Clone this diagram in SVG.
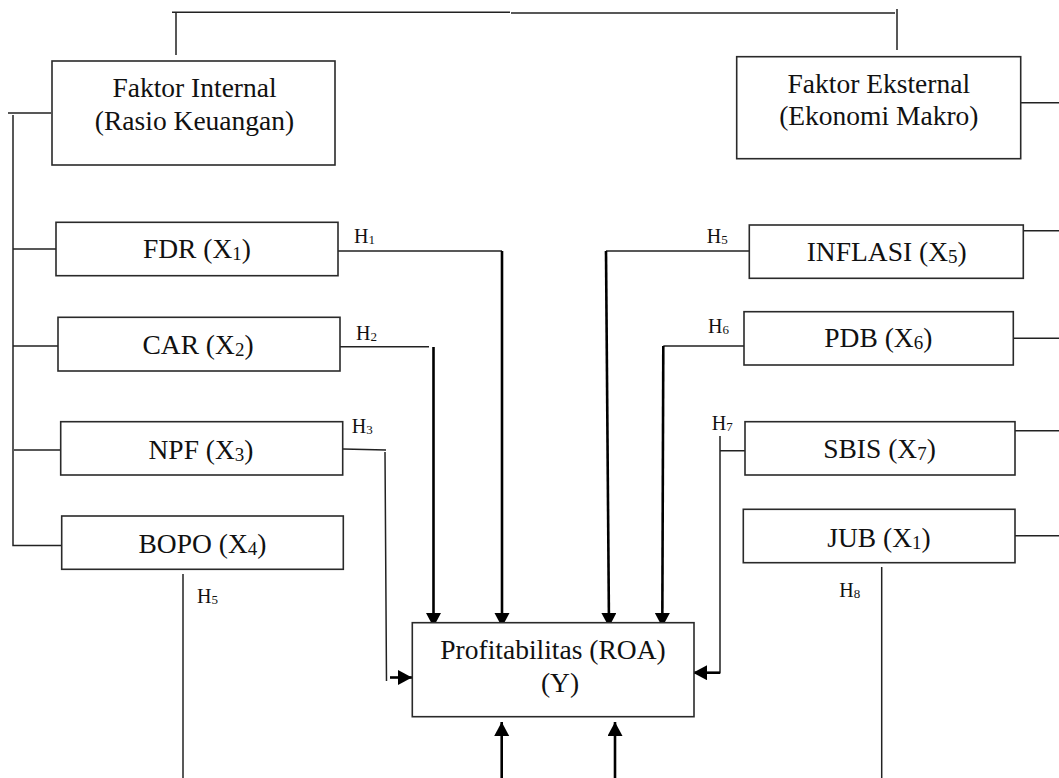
<svg xmlns="http://www.w3.org/2000/svg" width="1059" height="778" viewBox="0 0 1059 778">
<defs>
<style>
.box{fill:#fff;stroke:#2a2a2a;stroke-width:1.6}
.t{font-family:"Liberation Serif","Times New Roman",serif;font-size:27.5px;fill:#111;text-anchor:middle}
.h{font-family:"Liberation Serif","Times New Roman",serif;font-size:20px;fill:#111}
.ln{fill:none;stroke:#222;stroke-width:1.5}
.ar{fill:none;stroke:#000;stroke-width:2.6}
</style>
<marker id="ah" markerUnits="userSpaceOnUse" markerWidth="16" markerHeight="16" refX="14" refY="7.5" orient="auto">
<path d="M0,0 L14,7.5 L0,15 z" fill="#000"/>
</marker>
</defs>
<rect width="1059" height="778" fill="#fff"/>

<g id="connectors">
<path class="ln" d="M172,12.3 H510 M511,13 H895 M176,12 V55 M897,9 V50"/>
<path class="ln" d="M8,113 H51 M13,115 V545.5 H62 M13,249 H57 M13,346 H59 M14,450 H61"/>
<path class="ln" d="M183,574 V778"/>
<path class="ln" d="M335,251 H502 M339,346.7 H429 M343,449 L386,450 M385,452 L386.5,681"/>
<path class="ar" d="M502,251 V627" marker-end="url(#ah)"/>
<path class="ar" d="M433.5,347 V627" marker-end="url(#ah)"/>
<path class="ar" d="M390,677.5 H412" marker-end="url(#ah)"/>
<path class="ln" d="M606,251 H751 M663.3,346 H744 M720,450.7 H748"/>
<path class="ar" d="M606,251 L609,627" marker-end="url(#ah)"/>
<path class="ar" d="M663.3,346 L662.3,627" marker-end="url(#ah)"/>
<path class="ln" d="M720,436 V672.7 H710"/>
<path class="ar" d="M720,672.7 H693" marker-end="url(#ah)"/>
<path class="ar" d="M501.7,778 V722" marker-end="url(#ah)"/>
<path class="ar" d="M615,778 V722" marker-end="url(#ah)"/>
<path class="ln" d="M1020,102.7 H1059 M1020,230.7 H1059 M1014,338.3 H1059 M1013,430.7 H1059 M1015,535.7 H1059"/>
<path class="ln" d="M881.7,567 V778"/>
</g>

<g id="faktor-internal">
<rect class="box" x="52" y="61" width="283" height="104"/>
<text class="t" x="194.5" y="97">Faktor Internal</text>
<text class="t" x="194.5" y="130">(Rasio Keuangan)</text>
</g>
<g id="faktor-eksternal">
<rect class="box" x="736.7" y="56.7" width="284" height="102"/>
<text class="t" x="878.8" y="93">Faktor Eksternal</text>
<text class="t" x="878.8" y="125">(Ekonomi Makro)</text>
</g>

<g id="fdr">
<rect class="box" x="56" y="222.3" width="282" height="53.4"/>
<text class="t" x="197" y="258">FDR (X<tspan font-size="19" dy="2">1</tspan><tspan dy="-2">)</tspan></text>
</g>
<g id="car">
<rect class="box" x="58" y="317.3" width="282" height="53.7"/>
<text class="t" x="198" y="354">CAR (X<tspan font-size="19" dy="2">2</tspan><tspan dy="-2">)</tspan></text>
</g>
<g id="npf">
<rect class="box" x="60.7" y="421.7" width="282" height="53.3"/>
<text class="t" x="201" y="459">NPF (X<tspan font-size="19" dy="2">3</tspan><tspan dy="-2">)</tspan></text>
</g>
<g id="bopo">
<rect class="box" x="61.7" y="516" width="281.6" height="53.3"/>
<text class="t" x="202.5" y="553">BOPO (X<tspan font-size="19" dy="2">4</tspan><tspan dy="-2">)</tspan></text>
</g>

<g id="inflasi">
<rect class="box" x="749.3" y="225" width="274" height="53.3"/>
<text class="t" x="886.7" y="260.7">INFLASI (X<tspan font-size="19" dy="2">5</tspan><tspan dy="-2">)</tspan></text>
</g>
<g id="pdb">
<rect class="box" x="744" y="311.7" width="269.3" height="53.3"/>
<text class="t" x="878.3" y="346.7">PDB (X<tspan font-size="19" dy="2">6</tspan><tspan dy="-2">)</tspan></text>
</g>
<g id="sbis">
<rect class="box" x="745" y="421.7" width="270" height="53.3"/>
<text class="t" x="879.5" y="458.3">SBIS (X<tspan font-size="19" dy="2">7</tspan><tspan dy="-2">)</tspan></text>
</g>
<g id="jub">
<rect class="box" x="743.3" y="509.3" width="271.7" height="53.4"/>
<text class="t" x="879" y="546.7">JUB (X<tspan font-size="19" dy="2">1</tspan><tspan dy="-2">)</tspan></text>
</g>

<g id="profitabilitas">
<rect class="box" x="412.3" y="622.7" width="281.7" height="94"/>
<text class="t" x="553" y="659.3">Profitabilitas (ROA)</text>
<text class="t" x="560" y="691.7">(Y)</text>
</g>

<g id="labels">
<text class="h" x="354" y="243.3">H<tspan font-size="13" dy="1">1</tspan></text>
<text class="h" x="356" y="340">H<tspan font-size="13" dy="1">2</tspan></text>
<text class="h" x="351.7" y="433.3">H<tspan font-size="13" dy="1">3</tspan></text>
<text class="h" x="197" y="603">H<tspan font-size="13" dy="1">5</tspan></text>
<text class="h" x="706.7" y="243">H<tspan font-size="13" dy="1">5</tspan></text>
<text class="h" x="708" y="332.7">H<tspan font-size="13" dy="1">6</tspan></text>
<text class="h" x="711.7" y="430">H<tspan font-size="13" dy="1">7</tspan></text>
<text class="h" x="839.3" y="596.7">H<tspan font-size="13" dy="1">8</tspan></text>
</g>
</svg>
